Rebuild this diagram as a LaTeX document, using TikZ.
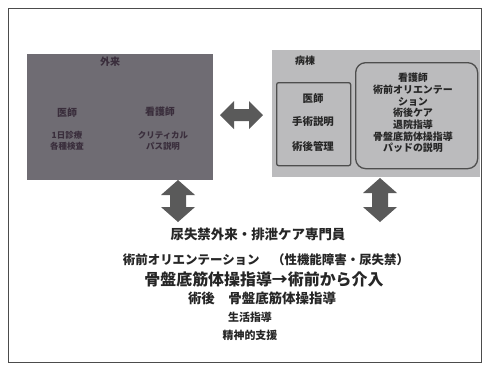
\documentclass[tikz,border=0pt]{standalone}
\usepackage{fontspec}
\setmainfont{Noto Sans CJK JP}
\begin{document}
\begin{tikzpicture}[x=1bp,y=-1bp,
  darkbox/.style={fill=boxdark,draw=none},
  lightbox/.style={fill=boxlight,draw=none},
  innerbox/.style={draw=edgegray,line width=1.3bp,fill=boxlight},
  blockarrow/.style={fill=arrowgray,draw=none},
  dtext/.style={text=darktext,font=\fontsize{10}{12}\selectfont\bfseries,align=center,inner sep=0},
  ltext/.style={text=black!85,font=\fontsize{10}{11.7}\selectfont\bfseries,align=center,inner sep=0},
  btext/.style={text=black!85,align=center,inner sep=0}
]
\definecolor{boxdark}{HTML}{6F6C73}
\definecolor{boxlight}{HTML}{BBBBBD}
\definecolor{edgegray}{HTML}{4E4E4E}
\definecolor{arrowgray}{HTML}{5A5A5A}
\definecolor{darktext}{HTML}{3A2E3C}
\useasboundingbox (0,0) rectangle (485,369);
\fill[white] (0,0) rectangle (485,369);
% outer frame
\draw[draw=black!70,line width=1bp] (8,8) rectangle (481,362);

% outpatient (left) box
\node[darkbox,minimum width=186bp,minimum height=126bp,anchor=north west,inner sep=0] (gairai) at (27,54) {};
\node[dtext] (gtitle) at (110,62) {外来};
\node[dtext] (gdoc) at (67,113) {医師};
\node[dtext,font=\fontsize{8.5}{11}\selectfont\bfseries] (gdoc2) at (67,141) {1日診療\\各種検査};
\node[dtext] (gnurse) at (160,112) {看護師};
\node[dtext,font=\fontsize{8.5}{11}\selectfont\bfseries] (gnurse2) at (163,141) {クリティカル\\パス説明};

% ward (right) box
\node[lightbox,minimum width=208bp,minimum height=127bp,anchor=north west,inner sep=0] (byoto) at (272,50) {};
\node[ltext] (btitle) at (305,61) {病棟};
\node[innerbox,rounded corners=2bp,minimum width=74bp,minimum height=83bp,anchor=north west,inner sep=0] (bdocbox) at (276,82) {};
\node[ltext,font=\fontsize{10.5}{12}\selectfont\bfseries] (bdoc1) at (313,99) {医師};
\node[ltext,font=\fontsize{10.5}{12}\selectfont\bfseries] (bdoc2) at (313,122) {手術説明};
\node[ltext,font=\fontsize{10.5}{12}\selectfont\bfseries] (bdoc3) at (313,146) {術後管理};
\node[innerbox,rounded corners=10bp,minimum width=122bp,minimum height=106bp,anchor=north west,inner sep=0] (bnursebox) at (355,62) {};
\node[ltext,anchor=north] (bnurse) at (413,73) {看護師\\術前オリエンテー\\ション\\術後ケア\\退院指導\\骨盤底筋体操指導\\パッドの説明};

% block arrows
\fill[blockarrow] (220,115) -- (234,101) -- (234,109) -- (249,109) -- (249,101) -- (263,115)
  -- (249,129) -- (249,121) -- (234,121) -- (234,129) -- cycle;
\fill[blockarrow] (178,180) -- (195,195) -- (186,195) -- (186,207) -- (195,207) -- (178,222)
  -- (161,207) -- (170,207) -- (170,195) -- (161,195) -- cycle;
\fill[blockarrow] (380,178) -- (397,193) -- (388,193) -- (388,207) -- (397,207) -- (380,222)
  -- (363,207) -- (372,207) -- (372,193) -- (363,193) -- cycle;

% bottom texts
\node[btext,font=\fontsize{13.5}{16}\selectfont\bfseries] (l1) at (258,234) {尿失禁外来・排泄ケア専門員};
\node[btext,font=\fontsize{12.5}{14}\selectfont\bfseries] (l2) at (266,260) {術前オリエンテーション　（性機能障害・尿失禁）};
\node[btext,font=\fontsize{16}{18}\selectfont\bfseries] (l3) at (264,279) {骨盤底筋体操指導→術前から介入};
\node[btext,font=\fontsize{13.5}{15}\selectfont\bfseries] (l4) at (262,298) {術後　骨盤底筋体操指導};
\node[btext,font=\fontsize{11}{13}\selectfont\bfseries] (l5) at (250,317) {生活指導};
\node[btext,font=\fontsize{11}{13}\selectfont\bfseries] (l6) at (250,335) {精神的支援};
\end{tikzpicture}
\end{document}
